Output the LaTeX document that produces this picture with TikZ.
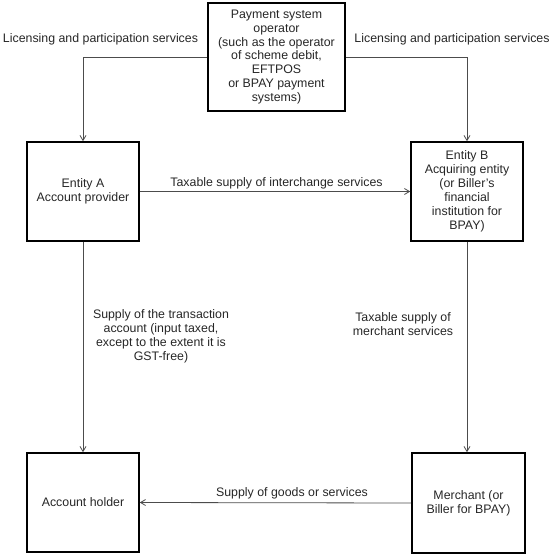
\documentclass[tikz,border=0pt]{standalone}
\usepackage{fontspec}
\setmainfont{Liberation Sans}
\usetikzlibrary{arrows.meta}
\begin{document}
\begin{tikzpicture}[x=1bp,y=-1bp,
  every node/.style={font=\fontsize{12.4}{14}\selectfont, text=black!85, align=center, inner sep=0pt},
  box/.style={draw=black, line width=1.6bp, minimum width=#1, anchor=center},
  conn/.style={draw=black!70, line width=0.8bp, -{Straight Barb[length=5bp,width=6bp]}},
  lbl/.style={}
]
\useasboundingbox (0,0) rectangle (553,560);
\node[box=137bp, minimum height=108bp] (op) at (276.5,57) {Payment system\\operator\\(such as the operator\\of scheme debit,\\EFTPOS\\or BPAY payment\\systems)};
\node[box=112bp, minimum height=99bp] (a) at (83,191.5) {Entity A\\Account provider};
\node[box=112bp, minimum height=99bp] (b) at (467,191.5) {Entity B\\Acquiring entity\\(or Biller's\\financial\\institution for\\BPAY)};
\node[box=112bp, minimum height=99bp] (h) at (83,502.5) {Account holder};
\node[box=113bp, minimum height=100bp] (m) at (468.5,503) {Merchant (or\\Biller for BPAY)};

\draw[conn] (op.west) -| (a.north);
\draw[conn] (op.east) -| (b.north);
\draw[conn] (a.east) -- (b.west);
\draw[conn] (a.south) -- (h.north);
\draw[conn] (b.south) -- (b.south |- m.north);
\draw[conn] (m.west) -- (h.east);

\node[lbl] (l1) at (100.5,39) {Licensing and participation services};
\node[lbl] (l2) at (452,39) {Licensing and participation services};
\node[lbl] (l3) at (276.5,183) {Taxable supply of interchange services};
\node[lbl] (l4) at (161,336.5) {Supply of the transaction\\account (input taxed,\\except to the extent it is\\GST-free)};
\node[lbl] (l5) at (403,324) {Taxable supply of\\merchant services};
\node[lbl] (l6) at (292,493) {Supply of goods or services};
\end{tikzpicture}
\end{document}
